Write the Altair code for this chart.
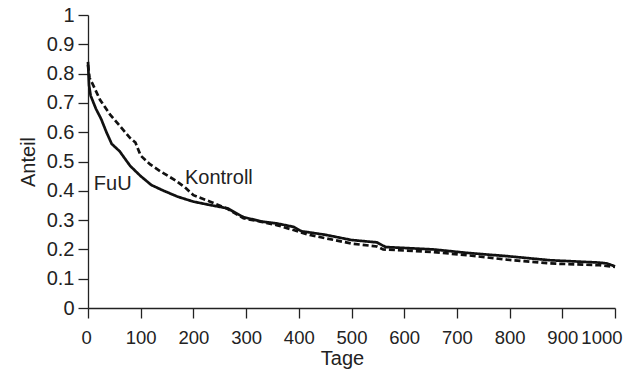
import altair as alt
import pandas as pd

fuu_days = [0, 2, 5, 15, 25, 35, 45, 60, 80, 100, 120, 140, 170, 200, 230, 265, 295, 330, 360, 390, 405, 450, 500, 548, 565, 655, 720, 795, 877, 970, 985, 1000]
fuu_vals = [0.84, 0.76, 0.725, 0.68, 0.645, 0.6, 0.56, 0.535, 0.485, 0.45, 0.42, 0.403, 0.38, 0.363, 0.352, 0.34, 0.31, 0.295, 0.288, 0.277, 0.262, 0.25, 0.232, 0.224, 0.208, 0.2, 0.188, 0.177, 0.163, 0.155, 0.152, 0.142]

kon_days = [0, 3, 10, 23, 42, 61, 80, 90, 100, 118, 137, 168, 185, 200, 232, 263, 295, 327, 358, 390, 421, 500, 548, 560, 655, 720, 795, 877, 970, 1000]
kon_vals = [0.83, 0.785, 0.76, 0.71, 0.66, 0.62, 0.58, 0.565, 0.52, 0.49, 0.467, 0.433, 0.41, 0.385, 0.363, 0.34, 0.306, 0.295, 0.283, 0.266, 0.249, 0.22, 0.21, 0.2, 0.191, 0.18, 0.165, 0.152, 0.146, 0.14]

label_text = ["FuU", "Kontroll"]
label_days = [11, 184]
label_vals = [0.424, 0.443]

x_ticks = list(range(0, 1001, 100))
y_ticks = [i / 10 for i in range(11)]

df = pd.concat([
    pd.DataFrame({"Tage": fuu_days, "Anteil": fuu_vals, "Gruppe": "FuU"}),
    pd.DataFrame({"Tage": kon_days, "Anteil": kon_vals, "Gruppe": "Kontroll"}),
])
labels = pd.DataFrame({"Tage": label_days, "Anteil": label_vals, "t": label_text})

FONT = "Liberation Sans"
C = "#222222"
common = dict(grid=False, labelFont=FONT, titleFont=FONT, titleFontSize=20,
              titleFontWeight="normal", labelColor=C, titleColor=C, domainColor=C, tickColor=C,
              domainWidth=1.3, tickWidth=1.3, tickSize=10, labelOverlap=False, labelBound=False)

x = alt.X("Tage:Q", scale=alt.Scale(domain=[0, 1000], nice=False),
          axis=alt.Axis(values=x_ticks, format="d", title="Tage", labelFlush=True,
                        labelFontSize=18.5, labelFlushOffset=7, labelPadding=10,
                        titlePadding=2, titleX=254, **common))
y = alt.Y("Anteil:Q", scale=alt.Scale(domain=[0, 1], nice=False),
          axis=alt.Axis(values=y_ticks, format=".1~f", title="Anteil", labelFlush=False,
                        labelFontSize=20, labelPadding=4, titlePadding=8, **common))

lines = alt.Chart(df).mark_line(color="#111111", strokeWidth=2.7).encode(
    x=x, y=y,
    strokeDash=alt.StrokeDash("Gruppe:N",
                              scale=alt.Scale(domain=["FuU", "Kontroll"], range=[[1, 0], [6, 3]]),
                              legend=None),
    detail="Gruppe:N",
)

text = alt.Chart(labels).mark_text(align="left", baseline="middle", font=FONT, fontSize=20,
                                   color=C).encode(x=x, y=y, text="t:N")

chart = (lines + text).properties(
    width=527, height=293,
    autosize=alt.AutoSizeParams(type="none"),
    padding={"left": 80, "top": 7, "right": 9, "bottom": 63},
).configure_view(stroke=None)

chart.save("out.html", embed_options={"renderer": "svg", "actions": False})
